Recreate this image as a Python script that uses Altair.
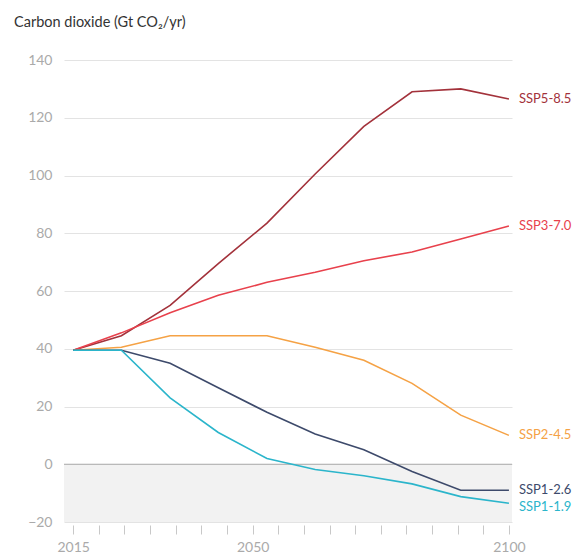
import altair as alt
import pandas as pd

# x positions of the data points as they appear on the chart (years)
years = [2015, 2024.4, 2033.9, 2043.3, 2052.8, 2062.2, 2071.7, 2081.1, 2090.6, 2100]
scenarios = ["SSP5-8.5", "SSP3-7.0", "SSP2-4.5", "SSP1-2.6", "SSP1-1.9"]
ssp585 = [39.5, 44.5, 55, 69.5, 83.5, 100.5, 117, 129, 130, 126.5]
ssp370 = [39.5, 45.5, 52.5, 58.5, 63, 66.5, 70.5, 73.5, 78, 82.5]
ssp245 = [39.5, 40.5, 44.5, 44.5, 44.5, 40.5, 36, 28, 17, 10]
ssp126 = [39.5, 39.5, 35, 26.5, 18, 10.5, 5, -2.5, -9, -9]
ssp119 = [39.5, 39.5, 23, 11, 2, -1.8, -4, -6.8, -11.2, -13.5]
colors = ["#a3323b", "#e8414c", "#f5a245", "#3d4a6b", "#2bb5cb"]
y_ticks = [-20, 0, 20, 40, 60, 80, 100, 120, 140]
x_ticks = list(range(2015, 2101, 5))
x_labels = [2015, 2050, 2100]

series = [ssp585, ssp370, ssp245, ssp126, ssp119]
rows = []
for name, vals in zip(scenarios, series):
    for yr, v in zip(years, vals):
        rows.append({"year": yr, "value": v, "scenario": name})
df = pd.DataFrame(rows)
last = df[df["year"] == years[-1]]

FONT = "Lato"
W, H = 448, 462
xscale = alt.Scale(domain=[2013.2, 2100.6], nice=False, zero=False)
yscale = alt.Scale(domain=[-20, 140], nice=False, zero=False)
cscale = alt.Scale(domain=scenarios, range=colors)

label_expr = "indexof([" + ",".join(str(v) for v in x_labels) + "], datum.value) >= 0 ? datum.value : ''"

band = alt.Chart(pd.DataFrame({"lo": [y_ticks[0]], "hi": [0]})).mark_rect(
    color="#f2f2f2"
).encode(
    x=alt.value(0), x2=alt.value(W),
    y=alt.Y("lo:Q", scale=yscale), y2="hi:Q",
)

axes = alt.Chart(df).mark_line(opacity=0).encode(
    x=alt.X("year:Q", scale=xscale, title=None,
            axis=alt.Axis(values=x_ticks, tickCount=40, grid=False, domain=False,
                          tickColor="#c8c8c8", tickSize=9, offset=3,
                          labelExpr=label_expr, labelOverlap=False,
                          labelFont=FONT, labelFontSize=14, labelColor="#aaaaaa",
                          labelPadding=6, labelFlush=False)),
    y=alt.Y("value:Q", scale=yscale, title=None,
            axis=alt.Axis(values=y_ticks, tickCount=20, grid=True, gridColor="#e3e3e3",
                          domain=False, ticks=False, labelPadding=12,
                          labelFont=FONT, labelFontSize=14, labelColor="#aaaaaa")),
)

zero = alt.Chart(pd.DataFrame({"z": [0]})).mark_rule(color="#a8a8a8", strokeWidth=1).encode(
    y=alt.Y("z:Q", scale=yscale), x=alt.value(0), x2=alt.value(W)
)

lines = alt.Chart(df).mark_line(strokeWidth=1.6).encode(
    x=alt.X("year:Q", scale=xscale),
    y=alt.Y("value:Q", scale=yscale),
    color=alt.Color("scenario:N", scale=cscale, legend=None),
    detail="scenario:N",
)

labels = alt.Chart(last[last["scenario"] != "SSP1-1.9"]).mark_text(
    align="left", baseline="middle", dx=10, font=FONT, fontSize=13
).encode(
    x=alt.X("year:Q", scale=xscale),
    y=alt.Y("value:Q", scale=yscale),
    text="scenario:N",
    color=alt.Color("scenario:N", scale=cscale, legend=None),
)
labels2 = alt.Chart(last[last["scenario"] == "SSP1-1.9"]).mark_text(
    align="left", baseline="middle", dx=10, dy=4, font=FONT, fontSize=13
).encode(
    x=alt.X("year:Q", scale=xscale),
    y=alt.Y("value:Q", scale=yscale),
    text="scenario:N",
    color=alt.Color("scenario:N", scale=cscale, legend=None),
)

chart = alt.layer(band, axes, zero, lines, labels, labels2).properties(
    width=W, height=H,
    autosize=alt.AutoSizeParams(type="none"),
    padding={"left": 56, "top": 52, "right": 64, "bottom": 37},
    title=alt.TitleParams("Carbon dioxide (Gt CO₂/yr)", anchor="start", frame="group",
                          font=FONT, fontSize=14.5, fontWeight="normal", color="#333333",
                          dx=-50, offset=23),
).configure_view(stroke=None)

chart.save("out.html", embed_options={"renderer": "svg", "actions": False})
